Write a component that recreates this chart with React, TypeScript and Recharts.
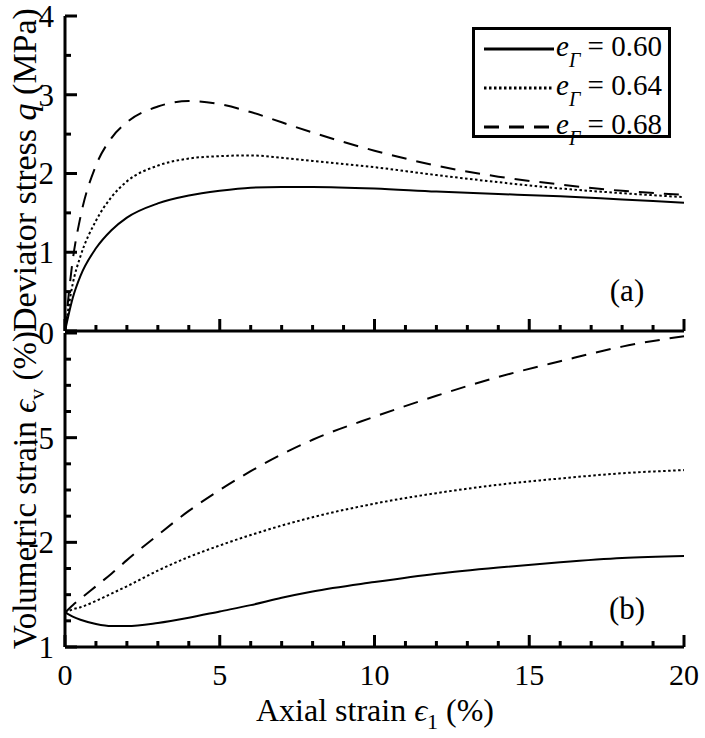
import React from "react";
import { LineChart, Line, XAxis, YAxis } from "recharts";

const strain = [0, 0.25, 0.5, 1, 1.5, 2, 3, 4, 5, 6, 7, 8, 10, 12, 14, 16, 18, 20];

// deviator stress q (MPa)
const q060 = [0, 0.42, 0.7, 1.05, 1.28, 1.44, 1.62, 1.72, 1.78, 1.82, 1.83, 1.83, 1.81, 1.77, 1.74, 1.71, 1.67, 1.63];
const q064 = [0, 0.6, 0.95, 1.4, 1.7, 1.9, 2.1, 2.19, 2.22, 2.23, 2.2, 2.16, 2.08, 1.98, 1.89, 1.81, 1.75, 1.7];
const q068 = [0, 0.9, 1.45, 2.1, 2.45, 2.65, 2.85, 2.92, 2.88, 2.78, 2.65, 2.52, 2.29, 2.1, 1.96, 1.86, 1.78, 1.73];

// volumetric strain (axis units)
const ev060 = [-2.67, -2.71, -2.74, -2.78, -2.8, -2.8, -2.77, -2.72, -2.66, -2.6, -2.53, -2.47, -2.38, -2.3, -2.24, -2.19, -2.15, -2.13];
const ev064 = [-2.67, -2.64, -2.62, -2.56, -2.49, -2.42, -2.27, -2.14, -2.03, -1.93, -1.84, -1.76, -1.63, -1.53, -1.45, -1.39, -1.34, -1.31];
const ev068 = [-2.67, -2.6, -2.54, -2.42, -2.3, -2.17, -1.93, -1.7, -1.5, -1.32, -1.16, -1.02, -0.8, -0.6, -0.42, -0.27, -0.13, -0.03];

const xTicks = Array.from({ length: 21 }, (_, i) => i);
const qTicks = [0, 0.5, 1, 1.5, 2, 2.5, 3, 3.5, 4];
const qTickLabels = ["", "1", "2", "3", "4"]; // the 0 is shared with panel (b)
const evTicks = [-3, -2.75, -2.5, -2.25, -2, -1.75, -1.5, -1.25, -1, -0.75, -0.5, -0.25, 0];
const evTickValues = [0, -1, -2, -3];
const evTickLabels = ["0", "-5", "-2", "1"];

const legendItems = [
  { label: "0.60", dash: undefined as string | undefined },
  { label: "0.64", dash: "2.5 2.5" },
  { label: "0.68", dash: "15 10" },
];

const topData = strain.map((e, i) => ({ e, a: q060[i], b: q064[i], c: q068[i] }));
const botData = strain.map((e, i) => ({ e, a: ev060[i], b: ev064[i], c: ev068[i] }));

const FONT = "'Liberation Serif', 'Times New Roman', serif";

const makeYTick = (labelFor: (v: number) => string | null) => (props: any) => {
  const { x, y, payload } = props;
  const v = payload.value;
  const major = Number.isInteger(v);
  const label = major ? labelFor(v) : null;
  return (
    <g>
      <line x1={x} x2={x + (major ? 12 : 6)} y1={y} y2={y} stroke="#000" strokeWidth={3} />
      {label && (
        <text x={x - 11} y={y} dy="0.35em" textAnchor="end" fontFamily={FONT} fontSize={31} fill="#000">
          {label}
        </text>
      )}
    </g>
  );
};

const makeXTick = (showLabel: boolean) => (props: any) => {
  const { x, y, payload } = props;
  const v = payload.value;
  const major = v % 5 === 0;
  return (
    <g>
      <line x1={x} x2={x} y1={y} y2={y - (major ? 12 : 6)} stroke="#000" strokeWidth={3} />
      {showLabel && major && (
        <text x={x} y={y + 38} textAnchor="middle" fontFamily={FONT} fontSize={30} fill="#000">
          {v}
        </text>
      )}
    </g>
  );
};

const LegendBox = ({ x, y }: { x: number; y: number }) => (
  <g transform={`translate(${x},${y})`}>
    <rect x={1.5} y={1.5} width={196} height={108} fill="#fff" stroke="#000" strokeWidth={3} />
    {legendItems.map((it, i) => {
      const cy = 22 + i * 39;
      return (
        <g key={it.label}>
          <line x1={12} x2={82} y1={cy} y2={cy} stroke="#000" strokeWidth={3} strokeDasharray={it.dash} />
          <text x={84} y={cy + 7} fontFamily={FONT} fontSize={29} fill="#000">
            <tspan fontStyle="italic">e</tspan>
            <tspan fontStyle="italic" fontSize={20} dy={11}>Γ</tspan>
            <tspan dy={-11}> = {it.label}</tspan>
          </text>
        </g>
      );
    })}
  </g>
);

const axisLine = { stroke: "#000", strokeWidth: 3 };

export default function App() {
  return (
    <div style={{ position: "absolute", left: 0, top: 0, width: 705, height: 738, background: "#fff" }}>
      <div style={{ position: "absolute", left: 0, top: 0 }}>
        <LineChart width={705} height={340} data={topData} margin={{ top: 16, right: 21, left: 64, bottom: 8 }}>
          <XAxis
            dataKey="e"
            type="number"
            domain={[0, 20]}
            ticks={xTicks}
            interval={0}
            height={1}
            tickSize={0}
            tickMargin={0}
            tickLine={false}
            axisLine={axisLine}
            tick={makeXTick(false)}
          />
          <YAxis
            type="number"
            domain={[0, 4]}
            ticks={qTicks}
            interval={0}
            width={1}
            tickSize={0}
            tickMargin={0}
            tickLine={false}
            axisLine={axisLine}
            tick={makeYTick((v) => qTickLabels[v])}
            label={{
              content: () => (
                <text x={24} y={170} transform="rotate(-90 24 170)" textAnchor="middle" dy="0.35em" fontFamily={FONT} fontSize={34} fill="#000">
                  Deviator stress <tspan fontStyle="italic">q</tspan> (MPa)
                </text>
              ),
            }}
          />
          <Line dataKey="a" type="monotone" stroke="#000" strokeWidth={2} dot={false} isAnimationActive={false} />
          <Line dataKey="b" type="monotone" stroke="#000" strokeWidth={2} strokeDasharray="2.5 2.5" dot={false} isAnimationActive={false} />
          <Line dataKey="c" type="monotone" stroke="#000" strokeWidth={2} strokeDasharray="15 10" dot={false} isAnimationActive={false} />
        </LineChart>
      </div>
      <div style={{ position: "absolute", left: 0, top: 0 }}>
        <LineChart width={705} height={738} data={botData} margin={{ top: 333, right: 21, left: 64, bottom: 90 }}>
          <XAxis
            dataKey="e"
            type="number"
            domain={[0, 20]}
            ticks={xTicks}
            interval={0}
            height={1}
            tickSize={0}
            tickMargin={0}
            tickLine={false}
            axisLine={axisLine}
            tick={makeXTick(true)}
            label={{
              content: () => (
                <text x={375} y={721} textAnchor="middle" fontFamily={FONT} fontSize={32} fill="#000">
                  Axial strain <tspan fontStyle="italic">ϵ</tspan>
                  <tspan fontSize={22} dy={8}>1</tspan>
                  <tspan dy={-8}> (%)</tspan>
                </text>
              ),
            }}
          />
          <YAxis
            type="number"
            domain={[-3, 0]}
            ticks={evTicks}
            interval={0}
            width={1}
            tickSize={0}
            tickMargin={0}
            tickLine={false}
            axisLine={axisLine}
            tick={makeYTick((v) => {
              const k = evTickValues.indexOf(v);
              return k >= 0 ? evTickLabels[k] : null;
            })}
            label={{
              content: () => (
                <text x={24} y={490} transform="rotate(-90 24 490)" textAnchor="middle" dy="0.35em" fontFamily={FONT} fontSize={33} fill="#000">
                  Volumetric strain <tspan fontStyle="italic">ϵ</tspan>
                  <tspan fontSize={22} dy={8}>v</tspan>
                  <tspan dy={-8}> (%)</tspan>
                </text>
              ),
            }}
          />
          <Line dataKey="a" type="monotone" stroke="#000" strokeWidth={2} dot={false} isAnimationActive={false} />
          <Line dataKey="b" type="monotone" stroke="#000" strokeWidth={2} strokeDasharray="2.5 2.5" dot={false} isAnimationActive={false} />
          <Line dataKey="c" type="monotone" stroke="#000" strokeWidth={2} strokeDasharray="15 10" dot={false} isAnimationActive={false} />
        </LineChart>
      </div>
      <div style={{ position: "absolute", left: 0, top: 0, pointerEvents: "none" }}>
        <svg width={705} height={738} style={{ display: "block" }}>
          <LegendBox x={472} y={27} />
          <text x={627} y={290} textAnchor="middle" dy="0.35em" fontFamily={FONT} fontSize={31} fill="#000">(a)</text>
          <text x={627} y={608} textAnchor="middle" dy="0.35em" fontFamily={FONT} fontSize={31} fill="#000">(b)</text>
        </svg>
      </div>
    </div>
  );
}
